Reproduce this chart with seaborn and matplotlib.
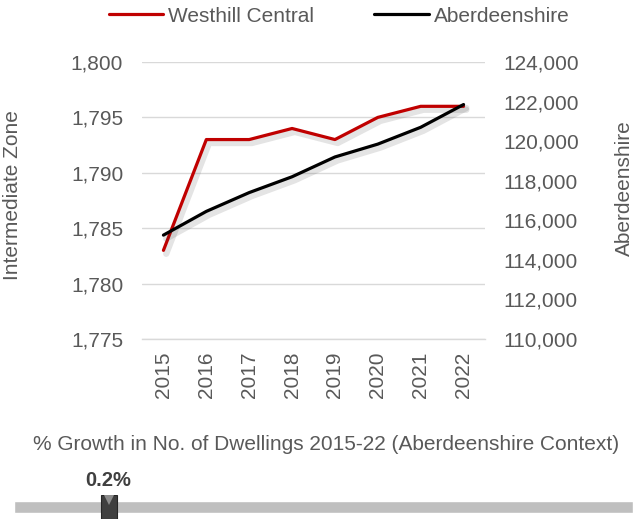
import matplotlib
matplotlib.use("Agg")
import matplotlib.pyplot as plt
import matplotlib.patheffects as pe
from matplotlib.ticker import FuncFormatter
import seaborn as sns
import pandas as pd

years = [2015, 2016, 2017, 2018, 2019, 2020, 2021, 2022]
westhill = [1783, 1793, 1793, 1794, 1793, 1795, 1796, 1796]
aberdeenshire = [115250, 116450, 117400, 118200, 119200, 119850, 120700, 121850]

growth_pct = 0.2
growth_axis = [-2.0, 12.3]

TXT = "#595959"
GRID = "#D9D9D9"

sns.set_style("white")
plt.rcParams["font.family"] = ["Liberation Sans", "DejaVu Sans"]
plt.rcParams["font.size"] = 15

df = pd.DataFrame({"Year": years, "Westhill": westhill, "Aberdeenshire": aberdeenshire})

fig = plt.figure(figsize=(6.33, 5.19), dpi=100)
ax = fig.add_axes([142 / 633, 1 - 339 / 519, 343 / 633, 277 / 519])
ax2 = ax.twinx()

shadow = [pe.SimpleLineShadow(offset=(2, -2.5), alpha=0.14, shadow_color="#404040", linewidth=4.5),
          pe.Normal()]
sns.lineplot(data=df, x="Year", y="Westhill", ax=ax, color="#C00000", linewidth=2.3,
             label="Westhill Central", path_effects=shadow)
sns.lineplot(data=df, x="Year", y="Aberdeenshire", ax=ax2, color="#000000", linewidth=2.3,
             label="Aberdeenshire", path_effects=shadow)

ax.set_ylim(1775, 1800)
ax.set_yticks(range(1775, 1801, 5))
ax2.set_ylim(110000, 124000)
ax2.set_yticks(range(110000, 124001, 2000))
fmt = FuncFormatter(lambda v, p: f"{v:,.0f}")
ax.yaxis.set_major_formatter(fmt)
ax2.yaxis.set_major_formatter(fmt)

ax.set_xlim(years[0] - 0.5, years[-1] + 0.5)
ax.set_xticks(years)
ax.set_xticklabels([str(y) for y in years], rotation=90)
ax.set_xticks([y - 0.5 for y in years] + [years[-1] + 0.5], minor=True)
ax.tick_params(axis="x", which="major", length=0, pad=9, colors=TXT, labelsize=15)
ax.tick_params(axis="x", which="minor", length=4, width=1, color=GRID)
ax.tick_params(axis="y", length=0, pad=13.5, colors=TXT, labelsize=15)
ax2.tick_params(axis="y", length=0, pad=13, colors=TXT, labelsize=15)

ax.grid(axis="y", color=GRID, linewidth=1)
ax.set_axisbelow(True)
for a in (ax, ax2):
    for s in a.spines.values():
        s.set_visible(False)
ax.spines["bottom"].set_visible(True)
ax.spines["bottom"].set_color(GRID)
ax.spines["bottom"].set_linewidth(1)

ax.set_xlabel("")
ax.set_ylabel("Intermediate Zone", color=TXT, fontsize=15)
ax.yaxis.set_label_coords(-0.35, 0.52)
ax2.set_ylabel("Aberdeenshire", color=TXT, fontsize=15)
ax2.yaxis.set_label_coords(1.378, 0.545)

h1, l1 = ax.get_legend_handles_labels()
h2, l2 = ax2.get_legend_handles_labels()
ax.get_legend().remove()
ax2.get_legend().remove()
leg = fig.legend(h1 + h2, l1 + l2, loc="center", bbox_to_anchor=(339 / 633, 1 - 16 / 519), ncol=2,
                 frameon=False, handlelength=2.6, handletextpad=0.25, columnspacing=2.9,
                 labelcolor=TXT, fontsize=15, borderaxespad=0)
for ln in leg.get_lines():
    ln.set_path_effects([])

# growth indicator strip
fig.text(326 / 633, 1 - 445 / 519, "% Growth in No. of Dwellings 2015-22 (Aberdeenshire Context)",
         ha="center", va="center", color=TXT, fontsize=15)
bx = fig.add_axes([14 / 633, 0, 619 / 633, 24 / 519])
bx.set_xlim(growth_axis)
bx.set_ylim(0, 24)
bx.axis("off")
bx.barh(12, growth_axis[1] - growth_axis[0], left=growth_axis[0], height=12, color="#BFBFBF")
w = 16 / 619 * (growth_axis[1] - growth_axis[0])
bx.bar(growth_pct, 24, width=w, bottom=0, color="#3F3F3F", edgecolor="#262626", linewidth=0.8)
bx.plot(growth_pct, 20.5, marker="v", color="#8C8C8C", markersize=8.5, markeredgewidth=0)
fig.text(108 / 633, 1 - 480 / 519, f"{growth_pct}%", ha="center", va="center",
         color="#404040", fontsize=14.5, fontweight="bold")

fig.savefig("out.png", dpi=100)
